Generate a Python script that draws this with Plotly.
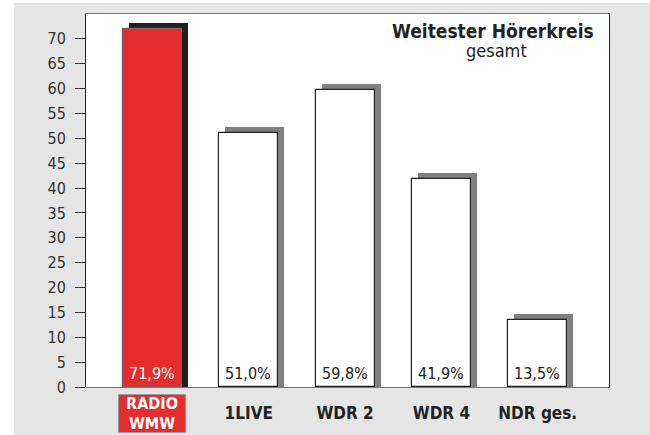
import plotly.graph_objects as go

categories = ["RADIO WMW", "1LIVE", "WDR 2", "WDR 4", "NDR ges."]
values = [71.9, 51.0, 59.8, 41.9, 13.5]
tick_labels = ["", "1LIVE", "WDR 2", "WDR 4", "NDR ges."]
y_ticks = list(range(0, 75, 5))
title_main = "Weitester Hörerkreis"
title_sub = "gesamt"

RED = "#e52d2d"
FONT = "DejaVu Sans Condensed, DejaVu Sans, sans-serif"

value_labels = [f"{v:.1f}".replace(".", ",") + "%" for v in values]
xs = list(range(len(categories)))

# layout geometry (pixels)
W, H = 650, 435
L, R, T, B = 86, 41, 14, 46
pw = W - L - R
ph = H - T - B
x_range = [-0.69, 4.74]
px_per_unit_x = pw / (x_range[1] - x_range[0])
y_range = [0, 75]
px_per_unit_y = ph / (y_range[1] - y_range[0])
bar_w = 59 / px_per_unit_x
shadow_dx = 6 / px_per_unit_x
shadow_dy = 6 / px_per_unit_y

main_colors = [RED] + ["white"] * (len(values) - 1)
shadow_colors = ["#231f20"] + ["#808080"] * (len(values) - 1)
line_colors = ["#8a5a5a"] + ["#222222"] * (len(values) - 1)
text_colors = ["white"] + ["#222222"] * (len(values) - 1)

fig = go.Figure()
fig.add_trace(go.Bar(
    x=[x + shadow_dx for x in xs], y=[v + shadow_dy for v in values],
    width=bar_w, marker=dict(color=shadow_colors, line=dict(width=0)),
    hoverinfo="skip", showlegend=False,
))
fig.add_trace(go.Bar(
    x=xs, y=values, width=bar_w,
    marker=dict(color=main_colors, line=dict(color=line_colors, width=1.2)),
    text=value_labels, textposition="inside", insidetextanchor="start",
    textangle=0, constraintext="none",
    insidetextfont=dict(family=FONT, size=16, color=text_colors),
    hovertext=categories, hoverinfo="text+y", showlegend=False,
))


def px_to_paper_x(px):
    return (px - L) / pw


def px_to_paper_y(py):
    return (H - B - py) / ph


shapes = [
    dict(type="rect", xref="paper", yref="paper",
         x0=px_to_paper_x(-5), x1=px_to_paper_x(14),
         y0=px_to_paper_y(H + 5), y1=px_to_paper_y(-5),
         fillcolor="white", line=dict(width=0)),
    dict(type="rect", xref="paper", yref="paper",
         x0=px_to_paper_x(-5), x1=px_to_paper_x(W + 5),
         y0=px_to_paper_y(3), y1=px_to_paper_y(-5),
         fillcolor="white", line=dict(width=0)),
]

annotations = [
    dict(x=px_to_paper_x(493), y=px_to_paper_y(31), xref="paper", yref="paper",
         text=f"<b>{title_main}</b>", showarrow=False, xanchor="center", yanchor="middle",
         font=dict(family=FONT, size=19, color="#222222")),
    dict(x=px_to_paper_x(496), y=px_to_paper_y(51), xref="paper", yref="paper",
         text=title_sub, showarrow=False, xanchor="center", yanchor="middle",
         font=dict(family=FONT, size=18, color="#222222")),
    dict(x=0, xref="x", y=px_to_paper_y(396), yref="paper",
         text="<b>RADIO<br>WMW</b>", showarrow=False, xanchor="center", yanchor="top",
         width=66, height=37, borderpad=0, bgcolor=RED, bordercolor="#999999", borderwidth=1,
         font=dict(family=FONT, size=16, color="white")),
]

fig.update_layout(
    width=W, height=H,
    margin=dict(l=L, r=R, t=T, b=B, pad=0),
    paper_bgcolor="#e5e5e5", plot_bgcolor="white",
    barmode="overlay", bargap=0,
    shapes=shapes, annotations=annotations,
    xaxis=dict(range=x_range, tickvals=xs, ticktext=[f"<b>{t}</b>" for t in tick_labels],
               showgrid=False, zeroline=False, showline=True, linecolor="#777777",
               linewidth=1, mirror=True, ticks="",
               tickfont=dict(family=FONT, size=17, color="#222222"),
               ticklabelstandoff=11),
    yaxis=dict(range=y_range, tickvals=y_ticks, showgrid=False, zeroline=False,
               showline=True, linecolor="#222222", linewidth=1, mirror=True,
               ticks="outside", ticklen=10, tickcolor="#333333", tickwidth=1,
               tickfont=dict(family=FONT, size=16, color="#333333"),
               ticklabelstandoff=6),
    font=dict(family=FONT),
)

fig.write_html("out.html", config={"displayModeBar": False},
               post_script="document.body.style.margin='0';document.body.style.overflow='hidden';")
